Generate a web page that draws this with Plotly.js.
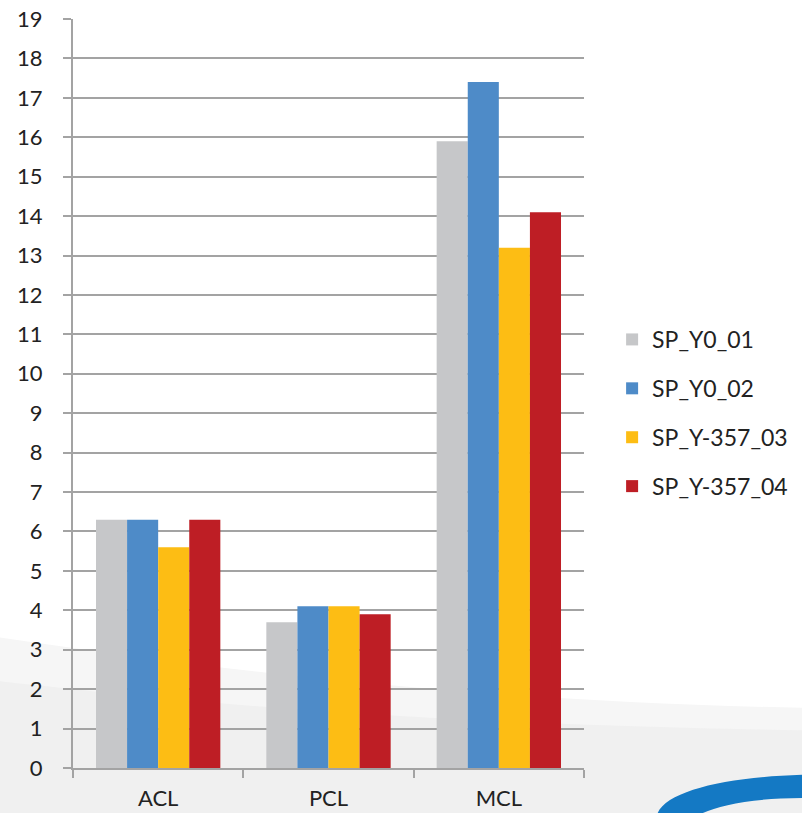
<!DOCTYPE html>
<html>
<head>
<meta charset="utf-8">
<script src="https://cdn.plot.ly/plotly-3.0.1.min.js"></script>
<style>html,body{margin:0;padding:0;background:#fff;}</style>
</head>
<body>
<div id="chart" style="width:802px;height:813px;"></div>
<script>
const categories = ["ACL", "PCL", "MCL"];
const seriesNames = ["SP_Y0_01", "SP_Y0_02", "SP_Y-357_03", "SP_Y-357_04"];
const sp_y0_01 = [6.3, 3.7, 15.9];
const sp_y0_02 = [6.3, 4.1, 17.4];
const sp_y357_03 = [5.6, 4.1, 13.2];
const sp_y357_04 = [6.3, 3.9, 14.1];
const yTicks = [0,1,2,3,4,5,6,7,8,9,10,11,12,13,14,15,16,17,18,19];

const values = [sp_y0_01, sp_y0_02, sp_y357_03, sp_y357_04];
const colors = ["#C6C7C9", "#4E8BC8", "#FDBD14", "#BE1E25"];

const traces = values.map((v, i) => ({
  type: "bar",
  name: seriesNames[i],
  x: categories,
  y: v,
  legendgroup: "g" + i,
  marker: {color: colors[i], line: {width: 0}},
  hoverinfo: "x+y+name"
}));

const fam = "Lato, Open Sans, sans-serif";

const layout = {
  width: 802,
  height: 813,
  margin: {l: 73, r: 218, t: 19, b: 45, pad: 0, autoexpand: false},
  paper_bgcolor: "#ffffff",
  plot_bgcolor: "rgba(0,0,0,0)",
  font: {family: fam, size: 22, color: "#222"},
  barmode: "group",
  bargap: 0.27,
  bargroupgap: 0,
  showlegend: true,
  legend: {
    x: 1.055, y: 0.474, xanchor: "left", yanchor: "middle",
    font: {family: fam, size: 23, color: "#222"},
    tracegroupgap: 16,
    bgcolor: "rgba(0,0,0,0)"
  },
  xaxis: {
    type: "category",
    showline: true, linecolor: "#A3A3A3", linewidth: 2,
    ticks: "outside", tickson: "boundaries", ticklen: 8, tickwidth: 2, tickcolor: "#A3A3A3",
    showgrid: false,
    tickfont: {family: fam, size: 22, color: "#222"},
    ticklabelstandoff: 10,
    fixedrange: true
  },
  yaxis: {
    range: [0, 19],
    tickvals: yTicks,
    ticktext: yTicks.map(String),
    showline: true, linecolor: "#A3A3A3", linewidth: 2,
    ticks: "outside", ticklen: 8, tickwidth: 2, tickcolor: "#A3A3A3",
    showgrid: true, gridcolor: "#A3A3A3", gridwidth: 2,
    zeroline: false,
    tickfont: {family: fam, size: 22, color: "#222"},
    ticklabelstandoff: 16,
    fixedrange: true
  },
  shapes: [
    {type: "path", xref: "paper", yref: "paper", layer: "below",
     path: "M -0.2 0.18 C 0.2 0.14, 0.7 0.09, 1.45 0.08 L 1.45 -0.07 L -0.2 -0.07 Z",
     fillcolor: "#F6F6F6", line: {width: 0}},
    {type: "path", xref: "paper", yref: "paper", layer: "below",
     path: "M -0.2 0.12 C 0.2 0.09, 0.6 0.06, 1.45 0.05 L 1.45 -0.07 L -0.2 -0.07 Z",
     fillcolor: "#F0F0F0", line: {width: 0}},
    {type: "path", xref: "paper", yref: "paper", layer: "above",
     path: "M 1.143 -0.062 C 1.16 -0.03, 1.28 -0.012, 1.43 -0.009 L 1.43 -0.040 C 1.33 -0.040, 1.26 -0.05, 1.227 -0.062 Z",
     fillcolor: "#1479C4", line: {width: 0}}
  ]
};

Plotly.newPlot("chart", traces, layout, {displayModeBar: false, staticPlot: true});
</script>
</body>
</html>
